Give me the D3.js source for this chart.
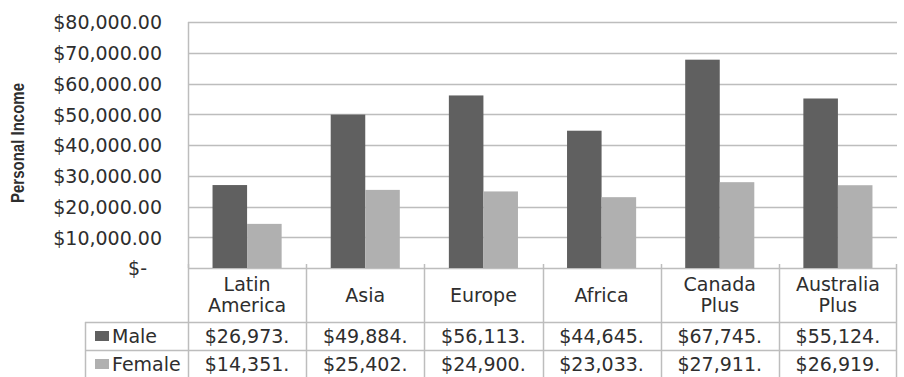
<!DOCTYPE html>
<html>
<head>
<meta charset="utf-8">
<script src="https://cdn.jsdelivr.net/npm/d3@7"></script>
<style>
	body { margin: 0; background: #fff; }
	svg { display: block; }
	.axis path, .axis line { display: none; }
</style>
</head>
<body>
<svg id="chart" width="904" height="377"></svg>
<script>
// data
var categories = ["Latin America", "Asia", "Europe", "Africa", "Canada Plus", "Australia Plus"];
var categoryLines = [["Latin", "America"], ["Asia"], ["Europe"], ["Africa"], ["Canada", "Plus"], ["Australia", "Plus"]];
var seriesNames = ["Male", "Female"];
var maleIncome = [26973, 49884, 56113, 44645, 67745, 55124];
var femaleIncome = [14351, 25402, 24900, 23033, 27911, 26919];
var yTicks = [0, 10000, 20000, 30000, 40000, 50000, 60000, 70000, 80000];

var colours = { Male: "#606060", Female: "#b0b0b0" };
var lineColour = "#bdbdbd";
var textColour = "#2e2e2e";
var font = "'DejaVu Sans', Verdana, sans-serif";

var svg = d3.select("#chart");

var plot = { left: 188, right: 897, top: 22, bottom: 268 };
var table = { legendLeft: 85, headerBottom: 322, rowHeight: 28 };

// scales
var xScale = d3.scaleBand()
	.domain(categories)
	.range([plot.left, plot.right])
	.padding(0);
var seriesScale = d3.scaleBand()
	.domain(seriesNames)
	.range([0, xScale.bandwidth()])
	.paddingInner(0)
	.paddingOuter(0.71);
var yScale = d3.scaleLinear()
	.domain([0, 80000])
	.range([plot.bottom, plot.top]);

// gridlines
svg.append("g")
	.selectAll("line")
	.data(yTicks)
	.enter()
	.append("line")
	.attr("x1", plot.left)
	.attr("x2", plot.right)
	.attr("y1", function(d) { return Math.round(yScale(d)) + 0.5; })
	.attr("y2", function(d) { return Math.round(yScale(d)) + 0.5; })
	.style("stroke", lineColour)
	.style("stroke-width", 1.5);

// left axis line
svg.append("line")
	.attr("x1", plot.left + 0.5).attr("x2", plot.left + 0.5)
	.attr("y1", plot.top).attr("y2", plot.bottom)
	.style("stroke", lineColour)
	.style("stroke-width", 1.5);

// bars
var rows = seriesNames.map(function(name, i) {
	return { name: name, values: i == 0 ? maleIncome : femaleIncome };
});
rows.forEach(function(row) {
	svg.append("g")
		.selectAll("rect")
		.data(row.values)
		.enter()
		.append("rect")
		.attr("x", function(d, i) { return xScale(categories[i]) + seriesScale(row.name); })
		.attr("y", function(d) { return yScale(d); })
		.attr("width", seriesScale.bandwidth())
		.attr("height", function(d) { return yScale(0) - yScale(d); })
		.style("fill", colours[row.name]);
});

// y axis
var yAxis = d3.axisLeft(yScale)
	.tickValues(yTicks)
	.tickSize(0)
	.tickPadding(0)
	.tickFormat(function(d) {
		return d == 0 ? "$-" : "$" + d3.format(",.2f")(d);
	});
var yAxisGroup = svg.append("g")
	.attr("class", "axis y")
	.attr("transform", "translate(162,0)")
	.call(yAxis);
yAxisGroup.selectAll("text")
	.style("font-family", font)
	.style("font-size", "19px")
	.style("fill", textColour)
	.attr("dy", "0.36em")
	.attr("x", function(d) { return d == 0 ? -15 : 0; });

// y axis title
svg.append("text")
	.attr("transform", "translate(24,143) rotate(-90)")
	.attr("textLength", 120)
	.attr("lengthAdjust", "spacingAndGlyphs")
	.style("font-family", "'Liberation Sans Narrow', 'Liberation Sans', sans-serif")
	.style("font-size", "18px")
	.style("font-weight", "bold")
	.style("fill", textColour)
	.style("text-anchor", "middle")
	.text("Personal Income");

// data table
var tableBottom = table.headerBottom + 2 * table.rowHeight;
var tableGroup = svg.append("g");
function tableLine(x1, y1, x2, y2) {
	tableGroup.append("line")
		.attr("x1", x1).attr("y1", y1).attr("x2", x2).attr("y2", y2)
		.style("stroke", lineColour)
		.style("stroke-width", 1.5);
}
for (var r = 0; r <= 2; r++) {
	var y = table.headerBottom + r * table.rowHeight + 0.5;
	tableLine(table.legendLeft, y, plot.right, y);
}
tableLine(table.legendLeft + 0.5, table.headerBottom, table.legendLeft + 0.5, tableBottom);
categories.forEach(function(c) {
	var x = Math.round(xScale(c)) + 0.5;
	tableLine(x, plot.bottom - 4, x, tableBottom);
});
tableLine(plot.right - 0.5, plot.bottom - 4, plot.right - 0.5, tableBottom);

// header labels
categories.forEach(function(c, i) {
	var lines = categoryLines[i];
	var cx = xScale(c) + xScale.bandwidth() / 2;
	var cy = (plot.bottom + table.headerBottom) / 2;
	var text = tableGroup.append("text")
		.attr("x", cx)
		.style("font-family", font)
		.style("font-size", "19px")
		.style("fill", textColour)
		.style("text-anchor", "middle");
	lines.forEach(function(line, j) {
		text.append("tspan")
			.attr("x", cx)
			.attr("y", cy + (j - (lines.length - 1) / 2) * 21)
			.attr("dy", "0.36em")
			.text(line);
	});
});

// value rows with legend keys
rows.forEach(function(row, r) {
	var cy = table.headerBottom + r * table.rowHeight + table.rowHeight / 2;
	tableGroup.append("rect")
		.attr("x", 95)
		.attr("y", cy - 5)
		.attr("width", 14)
		.attr("height", 10)
		.style("fill", colours[row.name]);
	tableGroup.append("text")
		.attr("x", 112)
		.attr("y", cy)
		.attr("dy", "0.36em")
		.style("font-family", font)
		.style("font-size", "19px")
		.style("fill", textColour)
		.text(row.name);
	row.values.forEach(function(v, i) {
		tableGroup.append("text")
			.attr("x", xScale(categories[i]) + xScale.bandwidth() / 2)
			.attr("y", cy)
			.attr("dy", "0.36em")
			.style("font-family", font)
			.style("font-size", "19px")
			.style("fill", textColour)
			.style("text-anchor", "middle")
			.text("$" + d3.format(",")(Math.floor(v)) + ".");
	});
});
</script>
</body>
</html>
